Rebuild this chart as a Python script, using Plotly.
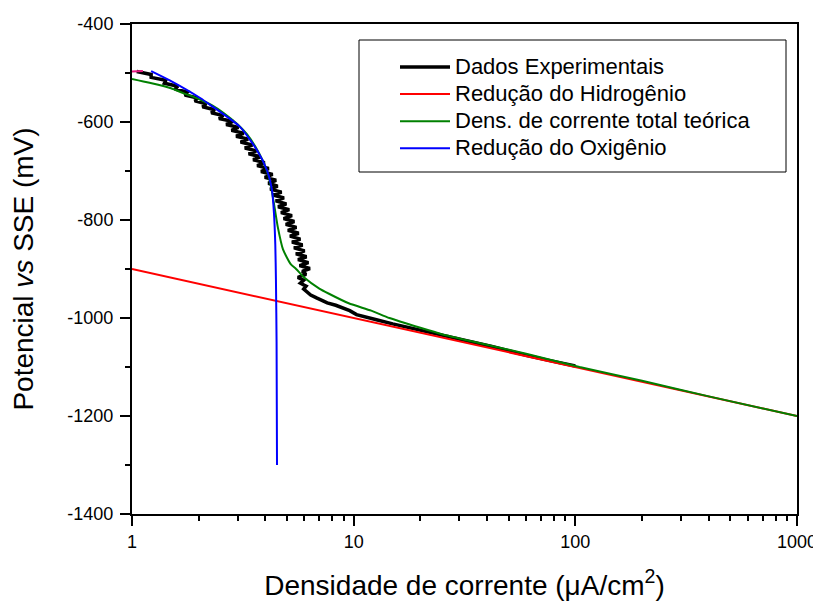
import plotly.graph_objects as go

# ---- data ----
exp_x = [1.05, 1.22, 1.22, 1.42, 1.40, 1.61, 1.56, 1.78, 1.73, 1.98, 1.92, 2.16, 2.08,
         2.36, 2.28, 2.58, 2.47, 2.86, 2.66, 3.02, 2.81, 3.19, 2.95, 3.34, 3.09, 3.49,
         3.23, 3.64, 3.36, 3.80, 3.52, 3.97, 3.67, 4.14, 3.82, 4.31, 3.97, 4.47, 4.12,
         4.54, 4.20, 4.73, 4.33, 4.85, 4.45, 4.97, 4.56, 5.12, 4.70, 5.27, 4.83, 5.40,
         4.94, 5.52, 5.05, 5.65, 5.16, 5.75, 5.27, 5.88, 5.38, 6.01, 5.49, 6.13, 5.61,
         6.25, 5.70, 6.35, 5.86, 6.10, 5.60, 5.95, 5.75, 6.10, 5.95, 6.20, 6.40, 6.80,
         7.2, 7.6, 8.3, 8.8, 9.6, 10.3, 11.5, 12.8, 15, 19.8, 24, 27.2, 35, 42, 50,
         60, 75, 100]
exp_y = [-497, -503, -509, -515, -521, -527, -533, -539, -545, -551, -557, -563, -569,
         -575, -581, -587, -593, -599, -605, -611, -617, -623, -629, -635, -641, -647,
         -653, -659, -665, -671, -677, -683, -689, -695, -701, -707, -713, -719, -725,
         -731, -737, -743, -749, -755, -761, -767, -773, -779, -785, -791, -797, -803,
         -809, -815, -821, -827, -833, -839, -845, -851, -857, -863, -869, -875, -881,
         -887, -893, -899, -905, -911, -917, -923, -929, -935, -941, -947, -953, -959,
         -964, -969, -974, -978, -985, -993, -998, -1004, -1012, -1025, -1033, -1039,
         -1050, -1058, -1067, -1076, -1086, -1098]

h2_x = [1, 1000]
h2_y = [-900, -1200]

total_x = [1.0, 1.2, 1.5, 1.7, 2.0, 2.3, 2.6, 3.0, 3.3, 3.6, 3.9, 4.1, 4.25, 4.4,
           4.55, 4.8, 5.2, 5.5, 6.0, 7.0, 7.7, 9.5, 12, 14.5, 20, 25, 36, 60, 104.5,
           200, 400, 1000]
total_y = [-512, -520, -531, -541, -553, -566, -582, -605, -625, -650, -680, -705,
           -735, -775, -815, -860, -890, -900, -918, -940, -950, -970, -985, -1000,
           -1020, -1033, -1050, -1073, -1100, -1128, -1160, -1200]

o2_x = [1.22, 1.48, 2.03, 2.25, 3.07, 3.66, 4.06, 4.28, 4.37, 4.43, 4.46, 4.49, 4.51]
o2_y = [-496, -515, -551, -565, -610, -657, -698, -739, -786, -850, -922, -1050, -1300]

start_x = [1.0, 1.12]
start_y = [-497, -496]

x_ticks = [1, 10, 100, 1000]
x_minor = [2, 3, 4, 5, 6, 7, 8, 9, 20, 30, 40, 50, 60, 70, 80, 90,
           200, 300, 400, 500, 600, 700, 800, 900]
y_ticks = [-1400, -1200, -1000, -800, -600, -400]

FONT = "Arial, 'Liberation Sans', sans-serif"

# the page body has an 8px margin, so the figure is drawn 8px in from the corner
W, H = 813, 593
ML, MR, MT, MB = 124, 24, 16, 87
PW = W - ML - MR
PH = H - MT - MB


def big(s):
    return '<span style="font-size:22px">' + s + '</span>'


def px_x(px):  # screen px -> paper x
    return (px - 8 - ML) / PW


def px_y(py):  # screen px -> paper y
    return (H - MB - (py - 8)) / PH


fig = go.Figure()
fig.add_trace(go.Scatter(x=exp_x, y=exp_y, mode="lines", name=big("Dados Experimentais"),
                         line=dict(color="black", width=3.5)))
fig.add_trace(go.Scatter(x=h2_x, y=h2_y, mode="lines", name=big("Redução do Hidrogênio"),
                         line=dict(color="#ff0000", width=2)))
fig.add_trace(go.Scatter(x=total_x, y=total_y, mode="lines",
                         name=big("Dens. de corrente total teórica"),
                         line=dict(color="#008000", width=2, shape="spline", smoothing=0.6)))
fig.add_trace(go.Scatter(x=o2_x, y=o2_y, mode="lines", name=big("Redução do Oxigênio"),
                         line=dict(color="#0000ff", width=2, shape="spline", smoothing=0.6)))
fig.add_trace(go.Scatter(x=start_x, y=start_y, mode="lines", showlegend=False,
                         line=dict(color="#e6197f", width=2)))

# legend frame
fig.add_shape(type="rect", xref="paper", yref="paper",
              x0=px_x(359), x1=px_x(786), y0=px_y(172), y1=px_y(40),
              line=dict(color="black", width=1), fillcolor="rgba(0,0,0,0)")

fig.update_layout(
    width=W, height=H,
    margin=dict(l=ML, r=MR, t=MT, b=MB, autoexpand=False),
    paper_bgcolor="white", plot_bgcolor="white",
    font=dict(family=FONT, color="black", size=18),
    showlegend=True,
    legend=dict(x=px_x(395), y=px_y(48.5), xanchor="left", yanchor="top",
                bgcolor="rgba(0,0,0,0)", borderwidth=0,
                font=dict(family=FONT, size=18.5, color="black"),
                itemwidth=50, tracegroupgap=0),
)
fig.update_xaxes(
    type="log", range=[0, 3], automargin=False,
    showline=True, linecolor="black", linewidth=2, mirror=True,
    showgrid=False, zeroline=False,
    tickmode="array", tickvals=x_ticks, ticktext=[str(v) for v in x_ticks],
    ticks="outside", ticklen=10, tickwidth=2, tickcolor="black",
    tickfont=dict(size=18),
    minor=dict(tickmode="array", tickvals=x_minor, ticks="outside", ticklen=5,
               tickwidth=2, tickcolor="black", showgrid=False),
    title=dict(text="Densidade de corrente (μA/cm<sup>2</sup>)",
               font=dict(size=28), standoff=25),
)
fig.update_yaxes(
    range=[-1400, -400], automargin=False,
    showline=True, linecolor="black", linewidth=2, mirror=True,
    showgrid=False, zeroline=False,
    tickmode="array", tickvals=y_ticks, ticktext=[str(v) for v in y_ticks],
    ticks="outside", ticklen=10, tickwidth=2, tickcolor="black",
    tickfont=dict(size=18), ticklabelstandoff=3,
    minor=dict(dtick=100, ticks="outside", ticklen=5, tickwidth=2,
               tickcolor="black", showgrid=False),
    title=dict(text="Potencial <i>vs</i> SSE (mV)", font=dict(size=28), standoff=28),
)

fig.write_html("out.html")
